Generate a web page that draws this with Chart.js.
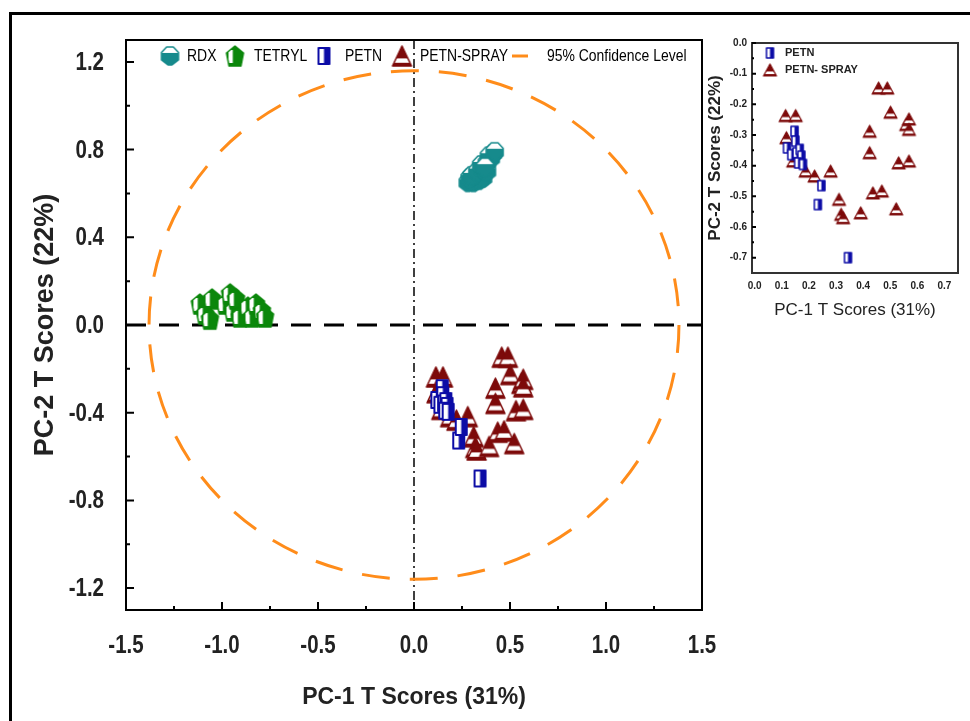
<!DOCTYPE html>
<html>
<head>
<meta charset="utf-8">
<script src="https://cdn.jsdelivr.net/npm/chart.js@4.4.1/dist/chart.umd.min.js"></script>
<style>
  html, body { margin: 0; padding: 0; background: #fff; overflow: hidden; }
  #wrap { position: relative; width: 970px; height: 721px; }
  #frame { position: absolute; left: 9px; top: 12px; width: 990px; height: 740px; border-top: 3px solid #000; border-left: 3px solid #000; }
  #main { position: absolute; left: 0; top: 0; }
  #inset { position: absolute; left: 705px; top: 30px; }
</style>
</head>
<body>
<div id="wrap">
  <div id="frame"></div>
  <canvas id="main" width="970" height="721"></canvas>
  <canvas id="inset" width="265" height="300"></canvas>
</div>
<script>
// ---- data (PC-1, PC-2 scores) ----
const rdxX = [0.28, 0.31, 0.34, 0.36, 0.29, 0.30, 0.33, 0.36, 0.38, 0.35, 0.38, 0.40, 0.41, 0.39, 0.42, 0.37]
const rdxY = [0.65, 0.65, 0.66, 0.67, 0.67, 0.68, 0.70, 0.71, 0.70, 0.73, 0.74, 0.76, 0.78, 0.77, 0.79, 0.72]

const tetrylX = [-1.115, -1.089, -1.052, -1.063, -0.984, -0.958, -0.943, -0.927, -0.906, -0.865, -0.844, -0.823, -0.792, -0.776]
const tetrylY = [0.096, 0.050, 0.119, 0.027, 0.096, 0.142, 0.064, 0.119, 0.037, 0.082, 0.037, 0.096, 0.064, 0.037]

const petnX = [0.119, 0.147, 0.150, 0.135, 0.154, 0.166, 0.172, 0.160, 0.178, 0.233, 0.246, 0.344]
const petnY = [-0.342, -0.288, -0.320, -0.364, -0.358, -0.347, -0.369, -0.391, -0.396, -0.527, -0.465, -0.700]

const sprayX = [0.114, 0.151, 0.117, 0.142, 0.188, 0.221, 0.280, 0.311, 0.319, 0.326, 0.391, 0.424,
                0.424, 0.436, 0.469, 0.457, 0.489, 0.501, 0.522, 0.531, 0.569, 0.559, 0.569, 0.569]
const sprayY = [-0.237, -0.237, -0.309, -0.385, -0.418, -0.434, -0.418, -0.510, -0.559, -0.570, -0.554, -0.288,
                -0.358, -0.489, -0.483, -0.147, -0.147, -0.226, -0.541, -0.391, -0.385, -0.266, -0.248, -0.282]

// 95% confidence ellipse radii (data units)
const confRx = 1.38
const confRy = 1.16

// ---- ticks ----
const mainXTicks = [-1.5, -1.0, -0.5, 0, 0.5, 1.0, 1.5]
const mainXLabels = ['-1.5', '-1.0', '-0.5', '0.0', '0.5', '1.0', '1.5']
const mainXMinor = [-1.25, -0.75, -0.25, 0.25, 0.75, 1.25]
const mainYTicks = [-1.2, -0.8, -0.4, 0, 0.4, 0.8, 1.2]
const mainYLabels = ['-1.2', '-0.8', '-0.4', '0.0', '0.4', '0.8', '1.2']
const mainYMinor = [-1.0, -0.6, -0.2, 0.2, 0.6, 1.0]

const insetXTicks = [0, 0.1, 0.2, 0.3, 0.4, 0.5, 0.6, 0.7]
const insetXLabels = ['0.0', '0.1', '0.2', '0.3', '0.4', '0.5', '0.6', '0.7']
const insetYTicks = [0, -0.1, -0.2, -0.3, -0.4, -0.5, -0.6, -0.7]
const insetYLabels = ['0.0', '-0.1', '-0.2', '-0.3', '-0.4', '-0.5', '-0.6', '-0.7']
const insetYMinor = [-0.05, -0.15, -0.25, -0.35, -0.45, -0.55, -0.65]

const TEAL = '#168a8c', GREEN = '#0b870b', BLUE = '#0c0ca6', RED = '#7d0a0a', ORANGE = '#ff8c1a'
const SANS = '"Liberation Sans", Arial, sans-serif'

function pts(xs, ys) { return xs.map((x, i) => ({ x: x, y: ys[i] })) }

// text squeezed horizontally, like Arial Narrow
function narrow(ctx, text, x, y, align) {
    ctx.save()
    ctx.translate(x, y)
    ctx.scale(0.82, 1)
    ctx.textAlign = align
    ctx.fillText(text, 0, 0)
    ctx.restore()
}

// marker images
function marker(kind, w, h, color, lw) {
    const c = document.createElement('canvas')
    c.width = w + 4; c.height = h + 4
    const g = c.getContext('2d')
    g.translate(2, 2)
    g.lineWidth = lw; g.strokeStyle = color; g.fillStyle = color; g.lineJoin = 'round'
    g.beginPath()
    if (kind === 'tri') {
        g.moveTo(w / 2, 0); g.lineTo(w, h); g.lineTo(0, h)
    } else if (kind === 'rect') {
        g.rect(0, 0, w, h)
    } else if (kind === 'hex') {
        g.moveTo(w * 0.3, 0); g.lineTo(w * 0.7, 0); g.lineTo(w, h * 0.3); g.lineTo(w, h * 0.72)
        g.lineTo(w * 0.62, h); g.lineTo(w * 0.38, h); g.lineTo(0, h * 0.72); g.lineTo(0, h * 0.3)
    } else {
        g.moveTo(w / 2, 0); g.lineTo(w, h * 0.35); g.lineTo(w * 0.85, h); g.lineTo(w * 0.15, h); g.lineTo(0, h * 0.35)
    }
    g.closePath()
    g.fill()
    g.save(); g.clip(); g.fillStyle = '#fff'
    if (kind === 'tri') g.fillRect(0, h * 0.62, w, h * 0.22)
    else if (kind === 'rect') g.fillRect(0, 0, w * 0.5, h)
    else if (kind === 'hex') g.fillRect(0, 0, w, h * 0.33)
    else g.fillRect(w * 0.12, h * 0.2, w * 0.25, h * 0.65)
    g.restore()
    g.stroke()
    return c
}

const mk = {
    rdx: marker('hex', 17, 18, TEAL, 1.5),
    tetryl: marker('pent', 17, 20, GREEN, 1.5),
    petn: marker('rect', 11, 16, BLUE, 2),
    spray: marker('tri', 19, 20, RED, 1.5),
    petnS: marker('rect', 7, 10, BLUE, 1.5),
    sprayS: marker('tri', 13, 12, RED, 1.2)
}

function drawTicks(ctx, a, x, y, xt, xm, yt, ym, big, small) {
    ctx.strokeStyle = '#000'; ctx.lineWidth = 2; ctx.setLineDash([])
    ctx.beginPath()
    xt.forEach(v => { const p = x.getPixelForValue(v); ctx.moveTo(p, a.bottom); ctx.lineTo(p, a.bottom - big) })
    xm.forEach(v => { const p = x.getPixelForValue(v); ctx.moveTo(p, a.bottom); ctx.lineTo(p, a.bottom - small) })
    yt.forEach(v => { const p = y.getPixelForValue(v); ctx.moveTo(a.left, p); ctx.lineTo(a.left + big, p) })
    ym.forEach(v => { const p = y.getPixelForValue(v); ctx.moveTo(a.left, p); ctx.lineTo(a.left + small, p) })
    ctx.stroke()
}

const mainDecor = {
    id: 'mainDecor',
    beforeDatasetsDraw(chart) {
        const { ctx, chartArea: a, scales: { x, y } } = chart
        const cx = x.getPixelForValue(0), cy = y.getPixelForValue(0)
        ctx.save()
        // vertical dash-dot at x = 0
        ctx.strokeStyle = '#000'; ctx.lineWidth = 1.5; ctx.setLineDash([9, 4, 2, 4])
        ctx.beginPath(); ctx.moveTo(cx, a.top); ctx.lineTo(cx, a.bottom); ctx.stroke()
        // horizontal dashed at y = 0
        ctx.lineWidth = 3; ctx.setLineDash([20, 13])
        ctx.beginPath(); ctx.moveTo(a.left, cy); ctx.lineTo(a.right, cy); ctx.stroke()
        // 95% confidence ellipse
        const rx = x.getPixelForValue(confRx) - cx
        const ry = cy - y.getPixelForValue(confRy)
        ctx.strokeStyle = ORANGE; ctx.lineWidth = 3; ctx.setLineDash([28, 20])
        ctx.beginPath(); ctx.ellipse(cx, cy, rx, ry, 0, 0, Math.PI * 2); ctx.stroke()
        ctx.restore()
    },
    afterDraw(chart) {
        const { ctx, chartArea: a, scales: { x, y } } = chart
        ctx.save()
        ctx.strokeStyle = '#000'; ctx.lineWidth = 2
        ctx.strokeRect(a.left, a.top, a.right - a.left, a.bottom - a.top)
        drawTicks(ctx, a, x, y, mainXTicks, mainXMinor, mainYTicks, mainYMinor, 8, 4)
        // tick labels
        ctx.font = 'bold 25px ' + SANS; ctx.fillStyle = '#222'; ctx.textBaseline = 'middle'
        mainXTicks.forEach((v, i) => narrow(ctx, mainXLabels[i], x.getPixelForValue(v), a.bottom + 36, 'center'))
        mainYTicks.forEach((v, i) => narrow(ctx, mainYLabels[i], a.left - 22, y.getPixelForValue(v) + 1, 'right'))
        // legend
        const ly = a.top + 16
        const items = [[mk.rdx, 44, 'RDX', 61], [mk.tetryl, 109, 'TETRYL', 128], [mk.petn, 198, 'PETN', 219], [mk.spray, 276, 'PETN-SPRAY', 294]]
        ctx.font = '17px ' + SANS; ctx.fillStyle = '#000'
        items.forEach(it => {
            const m = it[0]
            ctx.drawImage(m, a.left + it[1] - m.width / 2, ly - m.height / 2)
            narrow(ctx, it[2], a.left + it[3], ly, 'left')
        })
        ctx.strokeStyle = ORANGE; ctx.lineWidth = 3; ctx.setLineDash([])
        ctx.beginPath(); ctx.moveTo(a.left + 386, ly); ctx.lineTo(a.left + 402, ly); ctx.stroke()
        narrow(ctx, '95% Confidence Level', a.left + 421, ly, 'left')
        ctx.restore()
    }
}

const insetDecor = {
    id: 'insetDecor',
    afterDraw(chart) {
        const { ctx, chartArea: a, scales: { x, y } } = chart
        ctx.save()
        ctx.strokeStyle = '#333'; ctx.lineWidth = 2
        ctx.strokeRect(a.left, a.top, a.right - a.left, a.bottom - a.top)
        drawTicks(ctx, a, x, y, [], [], insetYTicks, insetYMinor, 4, 2)
        ctx.font = 'bold 11px ' + SANS; ctx.fillStyle = '#222'; ctx.textBaseline = 'middle'
        ctx.drawImage(mk.petnS, 65 - mk.petnS.width / 2, 23 - mk.petnS.height / 2)
        ctx.fillText('PETN', 80, 23)
        ctx.drawImage(mk.sprayS, 65 - mk.sprayS.width / 2, 40 - mk.sprayS.height / 2)
        ctx.fillText('PETN- SPRAY', 80, 40)
        ctx.restore()
    }
}

function axis(min, max, ticks, labels, pos, font, pad, title, tfont, tpad, fit, show) {
    return {
        type: 'linear', position: pos, min: min, max: max,
        grid: { display: false, drawTicks: false },
        border: { display: false },
        afterBuildTicks: s => { s.ticks = ticks.map(v => ({ value: v })) },
        afterFit: fit,
        ticks: { display: show, autoSkip: false, maxRotation: 0, padding: pad, color: '#222', font: font, callback: (v, i) => labels[i] },
        title: { display: true, text: title, color: '#222', font: tfont, padding: tpad }
    }
}

new Chart(document.getElementById('main'), {
    type: 'scatter',
    data: {
        datasets: [
            { label: 'RDX', data: pts(rdxX, rdxY), pointStyle: mk.rdx },
            { label: 'TETRYL', data: pts(tetrylX, tetrylY), pointStyle: mk.tetryl },
            { label: 'PETN', data: pts(petnX, petnY), pointStyle: mk.petn },
            { label: 'PETN-SPRAY', data: pts(sprayX, sprayY), pointStyle: mk.spray }
        ]
    },
    options: {
        responsive: false, animation: false, events: [],
        layout: { padding: { left: 14, top: 40, right: 268, bottom: 0 } },
        plugins: { legend: { display: false }, tooltip: { enabled: false } },
        scales: {
            x: axis(-1.5, 1.5, mainXTicks, mainXLabels, 'bottom', { family: SANS, size: 25, weight: 'bold' }, 21,
                'PC-1 T Scores (31%)', { family: SANS, size: 23, weight: 'bold' }, { bottom: 10 }, s => { s.height = 111 }, false),
            y: axis(-1.3, 1.3, mainYTicks, mainYLabels, 'left', { family: SANS, size: 25, weight: 'bold' }, 22,
                'PC-2 T Scores (22%)', { family: SANS, size: 27, weight: 'bold' }, { top: 15 }, s => { s.width = 112 }, false)
        }
    },
    plugins: [mainDecor]
})

new Chart(document.getElementById('inset'), {
    type: 'scatter',
    data: {
        datasets: [
            { label: 'PETN', data: pts(petnX, petnY), pointStyle: mk.petnS },
            { label: 'PETN-SPRAY', data: pts(sprayX, sprayY), pointStyle: mk.sprayS }
        ]
    },
    options: {
        responsive: false, animation: false, events: [],
        layout: { padding: { left: 0, top: 13, right: 12, bottom: 0 } },
        plugins: { legend: { display: false }, tooltip: { enabled: false } },
        scales: {
            x: axis(-0.01, 0.75, insetXTicks, insetXLabels, 'bottom', { family: SANS, size: 10, weight: 'bold' }, 7,
                'PC-1 T Scores (31%)', { family: SANS, size: 17 }, { bottom: 9 }, s => { s.height = 57 }, true),
            y: axis(-0.75, 0, insetYTicks, insetYLabels, 'left', { family: SANS, size: 10, weight: 'bold' }, 5,
                'PC-2 T Scores (22%)', { family: SANS, size: 17, weight: 'bold' }, { top: 0 }, s => { s.width = 47 }, true)
        }
    },
    plugins: [insetDecor]
})
</script>
</body>
</html>
